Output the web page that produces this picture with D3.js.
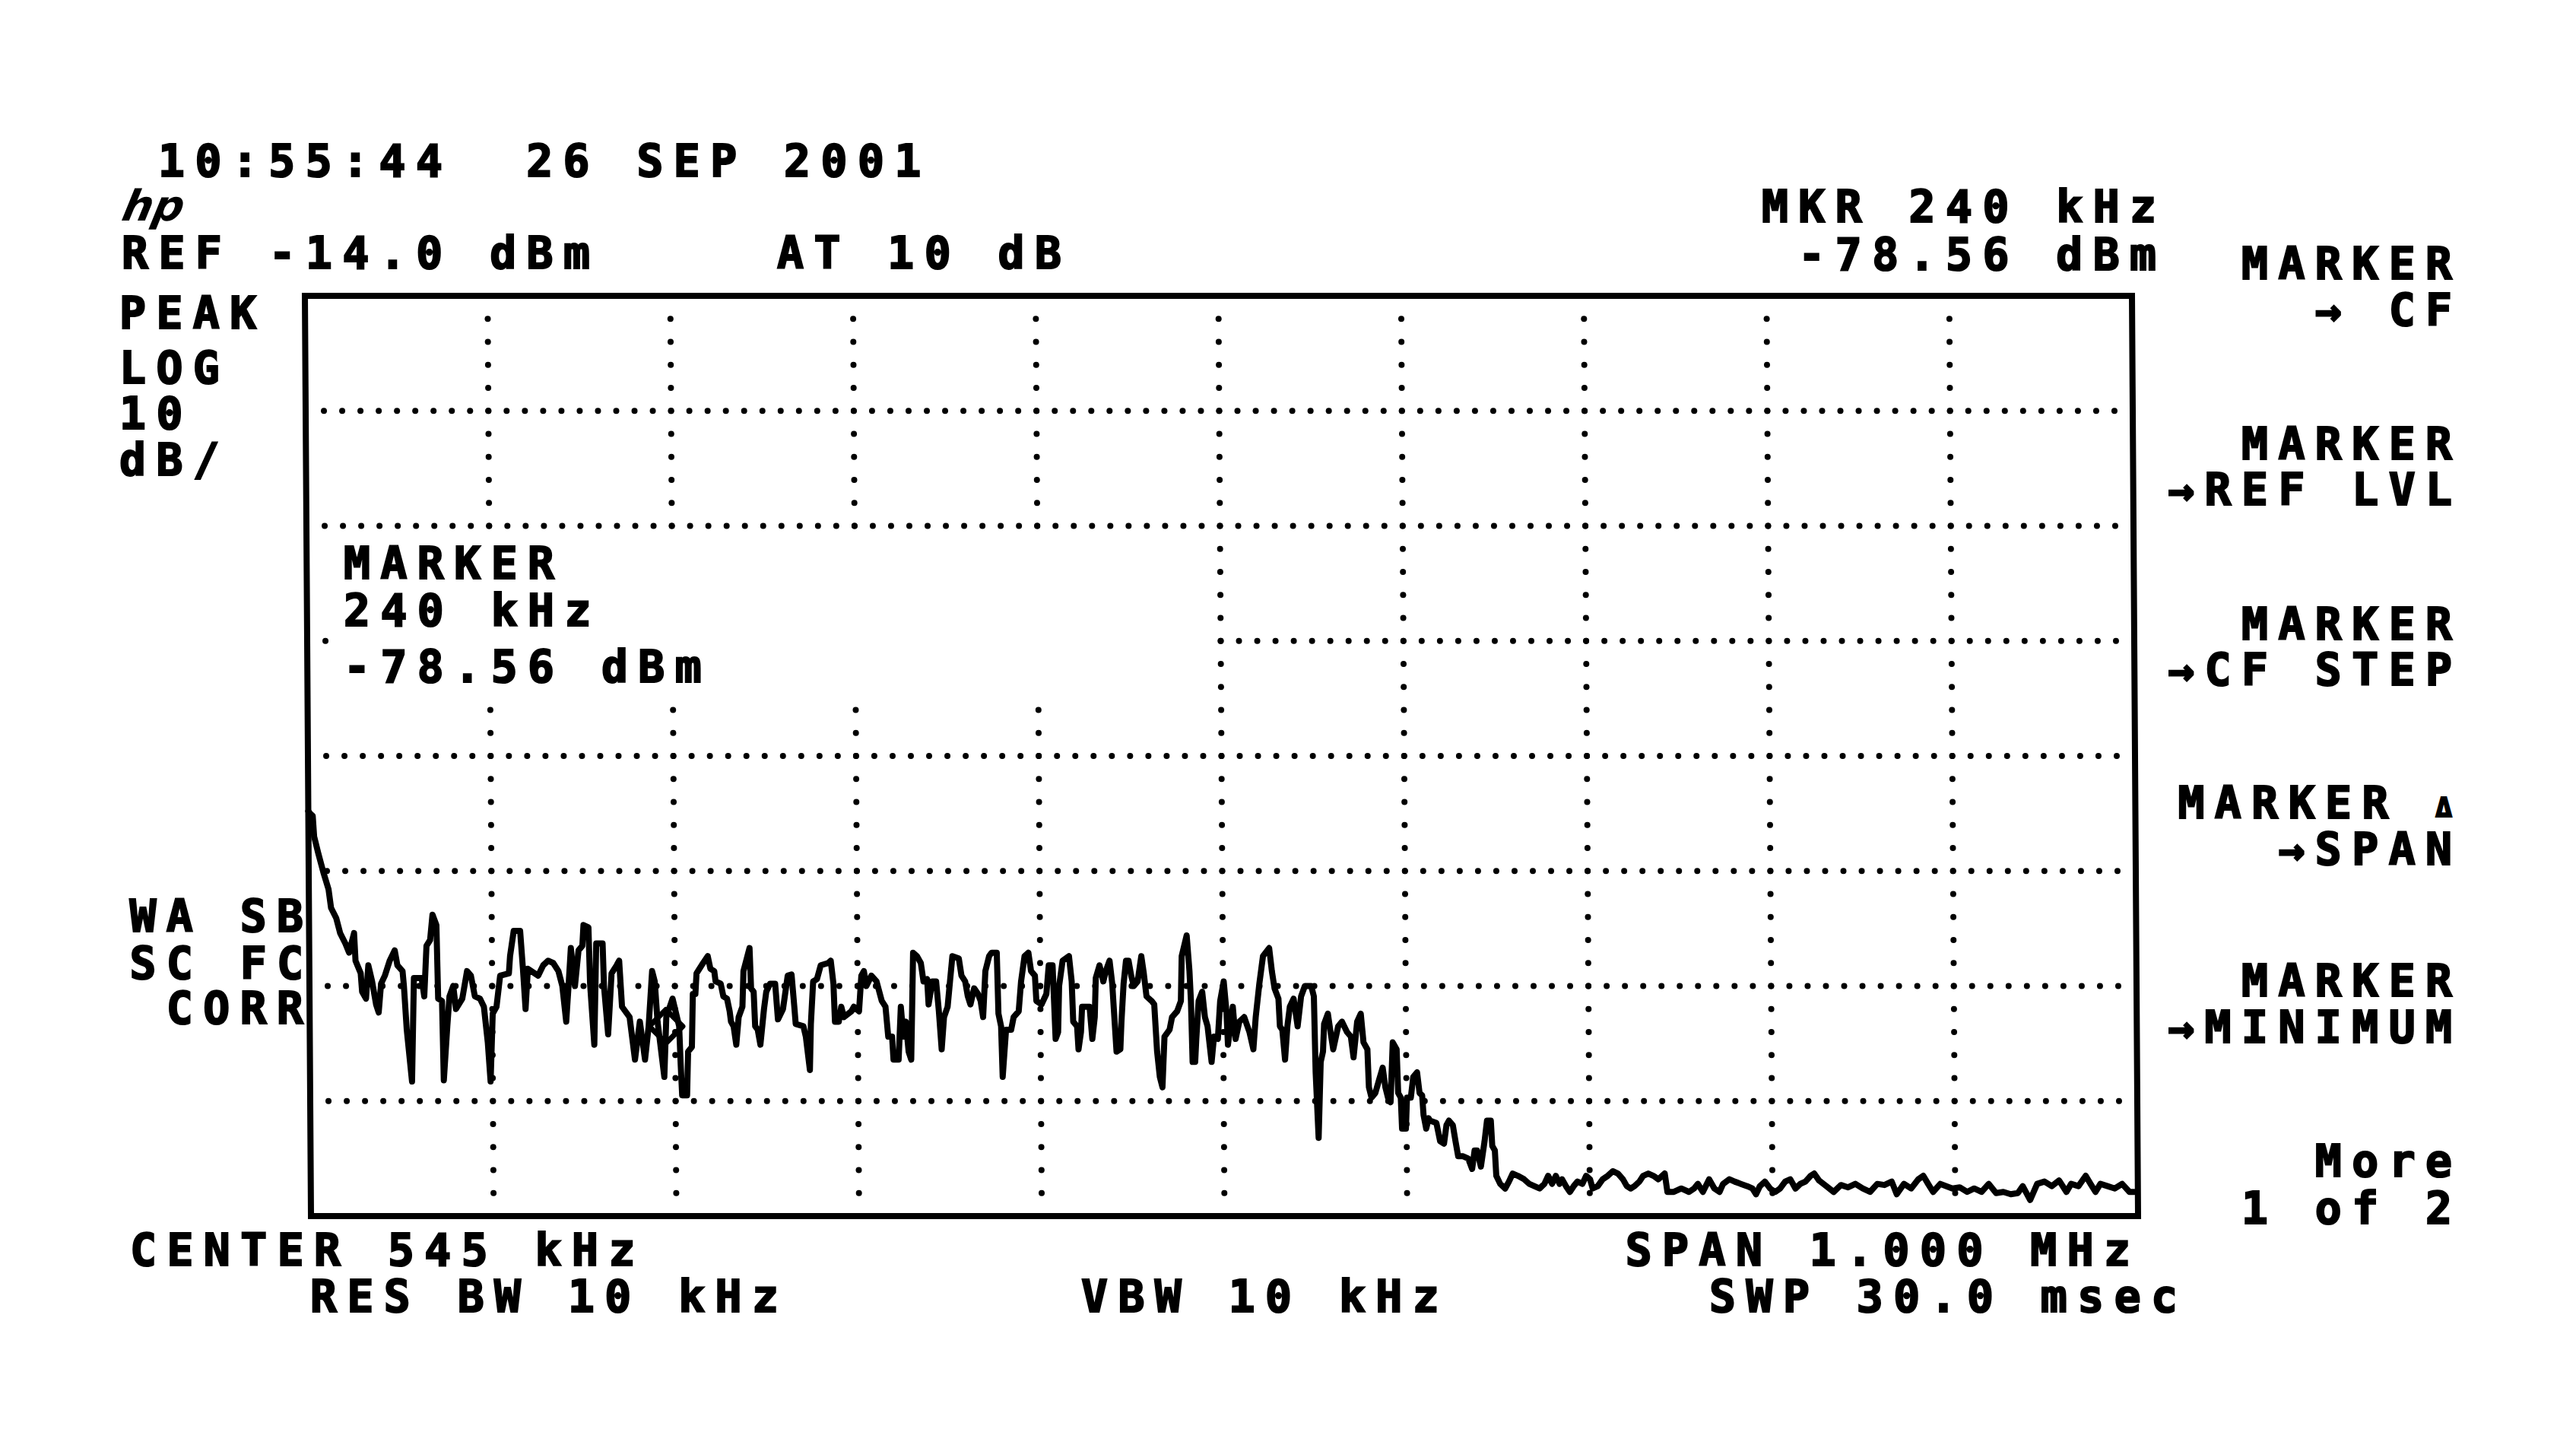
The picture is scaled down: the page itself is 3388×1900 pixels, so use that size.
<!DOCTYPE html>
<html>
<head>
<meta charset="utf-8">
<script src="https://cdn.jsdelivr.net/npm/d3@7"></script>
<style>
  body { margin:0; background:#fff; }
  svg text { font-family:"DejaVu Sans Mono", monospace; font-weight:bold; fill:#000; white-space:pre; }
</style>
</head>
<body>
<script>
//Analyzer settings
var refLevel = -14.0
var dbPerDiv = 10
var nDivY = 8
var nDivX = 10
var centerKHz = 545
var spanKHz = 1000
var markerKHz = 240

//Annotation texts
var headerText = ["10:55:44  26 SEP 2001", "REF -14.0 dBm", "AT 10 dB"]
var markerReadout = ["MKR 240 kHz", "-78.56 dBm"]
var modeText = ["PEAK", "LOG", "10", "dB/"]
var markerBox = ["MARKER", "240 kHz", "-78.56 dBm"]
var statusText = ["WA SB", "SC FC", "CORR"]
var footerText = ["CENTER 545 kHz", "SPAN 1.000 MHz", "RES BW 10 kHz", "VBW 10 kHz", "SWP 30.0 msec"]
var softkeys = [["MARKER", "\u2192 CF"], ["MARKER", "\u2192REF LVL"], ["MARKER", "\u2192CF STEP"],
                ["MARKER \u0394", "\u2192SPAN"], ["MARKER", "\u2192MINIMUM"], ["More", "1 of 2"]]

//Trace vertices [kHz, dBm]
var trace = [
 [45,-58.8],[46.0,-59.0],[47.4,-59.2],[48.1,-61.0],[50.2,-62.4],[53.0,-64.1],[55.8,-65.6],[57.1,-67.2],
 [59.9,-68.1],[62.0,-69.4],[64.8,-70.3],[66.8,-71.1],[69.6,-69.4],[70.3,-71.8],[73.1,-72.9],[73.8,-74.5],
 [75.9,-75.1],[77.3,-72.2],[79.3,-73.6],[81.4,-75.6],[82.8,-76.3],[84.2,-73.8],[86.3,-73.1],[89.0,-71.8],
 [91.8,-70.9],[93.2,-72.2],[96.0,-72.7],[96.7,-74.0],[98.1,-77.8],[100.8,-82.3],[102.2,-73.3],[106.4,-73.3],
 [107.8,-74.9],[109.2,-70.5],[111.2,-70.0],[112.6,-67.8],[114.7,-68.7],[115.4,-75.1],[117.5,-75.3],[118.2,-82.2],
 [120.3,-77.5],[121.6,-74.9],[123.7,-74.0],[125.1,-76.0],[128.6,-75.1],[131.3,-72.7],[133.4,-73.1],[135.5,-74.9],
 [138.3,-75.1],[140.4,-75.8],[142.4,-78.9],[143.8,-82.3],[145.2,-76.4],[147.3,-75.8],[149.4,-73.1],[154.2,-72.9],
 [154.9,-71.4],[157.0,-69.2],[160.5,-69.2],[161.9,-72.5],[163.2,-76.0],[164.6,-72.5],[170.2,-73.1],[173.0,-72.2],
 [175.7,-71.8],[178.5,-72.0],[181.3,-72.7],[183.4,-74.0],[185.4,-77.1],[186.8,-74.0],[188.2,-70.7],[190.3,-74.0],
 [192.4,-70.9],[194.5,-70.5],[195.2,-68.7],[197.9,-68.9],[198.6,-73.8],[200.7,-79.1],[202.1,-70.3],[205.6,-70.3],
 [206.2,-74.0],[208.3,-78.2],[210.4,-72.9],[213.2,-72.2],[214.6,-71.8],[216.0,-75.8],[220.1,-76.7],[222.9,-80.4],
 [225.7,-77.1],[228.4,-80.4],[230.5,-77.5],[232.6,-72.7],[234.0,-73.6],[235.4,-77.1],[238.9,-81.9],[240.2,-76.7],
 [243.7,-75.1],[247.2,-77.5],[247.9,-80.8],[248.6,-83.5],[251.3,-83.5],[252.0,-79.7],[254.1,-79.3],[254.8,-74.7],
 [256.2,-74.7],[256.9,-72.9],[259.7,-72.2],[263.1,-71.4],[264.5,-72.5],[266.6,-72.7],[267.3,-73.6],[270.1,-73.8],
 [271.5,-74.9],[273.5,-75.1],[274.9,-76.2],[275.6,-77.1],[277.0,-77.5],[278.4,-79.1],[279.8,-76.7],[281.9,-75.8],
 [282.6,-72.7],[286.0,-70.7],[286.7,-74.2],[288.1,-74.5],[288.8,-77.5],[290.2,-77.8],[291.6,-79.1],[293.7,-76.0],
 [295.0,-74.5],[297.1,-73.8],[299.9,-73.8],[301.3,-76.9],[304.1,-76.0],[306.8,-73.1],[308.9,-73.0],[310.3,-75.8],
 [311.0,-77.3],[315.2,-77.5],[316.5,-78.4],[318.6,-81.3],[319.3,-77.3],[320.7,-73.6],[322.8,-73.4],[324.9,-72.2],
 [329.0,-72.0],[330.4,-71.8],[331.8,-73.8],[332.5,-77.1],[334.6,-77.1],[336.0,-75.8],[337.4,-76.7],[341.5,-76.2],
 [342.9,-75.8],[345.7,-76.2],[347.1,-73.1],[348.5,-72.7],[349.8,-74.0],[352.6,-73.1],[355.4,-73.6],[358.2,-75.3],
 [360.2,-75.8],[361.6,-78.4],[363.7,-78.4],[364.4,-80.4],[367.2,-80.4],[368.6,-75.8],[369.9,-78.4],[371.3,-77.1],
 [372.7,-79.7],[374.1,-80.4],[374.8,-75.8],[375.5,-71.1],[377.6,-71.4],[379.7,-72.0],[381.1,-73.6],[383.1,-73.4],
 [383.8,-75.6],[385.9,-73.6],[388.0,-73.6],[389.4,-76.2],[390.8,-79.5],[392.2,-76.7],[394.2,-75.8],[395.6,-73.6],
 [397.0,-71.4],[400.5,-71.6],[401.9,-73.1],[403.9,-73.6],[405.3,-74.9],[406.7,-75.6],[408.8,-74.2],[410.9,-74.7],
 [412.3,-75.3],[413.6,-76.7],[415.0,-72.7],[417.1,-71.4],[418.5,-71.1],[421.3,-71.1],[422.0,-76.4],[423.4,-77.5],
 [424.1,-81.9],[426.1,-77.8],[428.9,-77.8],[430.3,-76.7],[433.1,-76.2],[434.5,-73.6],[436.5,-71.4],[438.6,-71.1],
 [440.0,-72.7],[442.1,-73.1],[442.8,-75.3],[445.6,-75.6],[448.3,-74.7],[449.7,-72.2],[451.8,-72.2],[453.2,-78.6],
 [454.6,-78.0],[455.3,-74.0],[457.3,-71.8],[460.8,-71.4],[462.2,-73.6],[462.9,-77.1],[465.0,-77.5],[465.7,-79.5],
 [467.1,-78.0],[467.8,-75.8],[471.9,-75.8],[473.3,-78.6],[474.7,-76.7],[475.4,-73.3],[477.5,-72.2],[479.5,-73.6],
 [480.9,-72.7],[483.0,-71.8],[484.4,-73.8],[485.1,-75.8],[486.5,-79.7],[488.6,-79.5],[489.3,-77.1],[490.6,-73.8],
 [492.0,-71.8],[493.4,-71.8],[494.8,-73.1],[496.2,-74.0],[498.3,-73.6],[500.4,-71.4],[501.7,-72.9],[503.1,-74.9],
 [505.9,-75.3],[507.3,-75.6],[508.7,-79.7],[510.1,-81.9],[511.5,-82.8],[512.8,-78.4],[515.6,-77.8],[517.0,-76.7],
 [519.8,-76.2],[521.9,-75.3],[522.5,-71.4],[525.3,-69.6],[526.7,-72.7],[527.4,-75.3],[528.1,-80.6],[529.5,-80.6],
 [530.2,-78.6],[531.6,-75.3],[533.6,-74.5],[535.0,-76.7],[536.4,-77.5],[538.5,-80.6],[539.9,-78.4],[542.0,-78.6],
 [543.4,-75.3],[545.4,-73.6],[546.8,-76.2],[547.5,-79.1],[550.3,-75.8],[551.7,-78.6],[553.8,-77.1],[556.5,-76.7],
 [559.3,-78.0],[561.4,-79.5],[562.8,-76.7],[564.9,-73.8],[567.0,-71.4],[570.4,-70.7],[571.8,-72.7],[573.2,-74.2],
 [575.3,-75.1],[576.0,-77.5],[577.3,-77.8],[578.7,-80.4],[580.1,-77.5],[581.5,-75.8],[583.6,-75.1],[585.7,-77.5],
 [587.7,-74.9],[589.8,-74.0],[593.3,-74.0],[594.7,-74.9],[595.4,-81.5],[596.8,-87.2],[598.2,-80.6],[599.5,-79.7],
 [600.2,-77.3],[602.3,-76.4],[603.7,-78.0],[605.1,-79.5],[607.9,-77.5],[610.0,-77.1],[612.7,-78.0],[614.8,-78.4],
 [616.2,-80.2],[618.3,-77.1],[620.3,-76.4],[621.7,-78.9],[623.8,-79.5],[624.5,-82.8],[625.9,-83.7],[628.0,-83.3],
 [630.0,-82.2],[632.1,-81.1],[633.5,-82.8],[634.9,-83.7],[636.3,-84.1],[637.7,-78.9],[639.8,-79.5],[640.5,-83.3],
 [641.9,-83.7],[642.5,-86.4],[644.6,-86.4],[645.3,-83.7],[647.4,-83.7],[648.8,-81.9],[650.9,-81.5],[652.2,-83.3],
 [653.6,-83.5],[654.3,-85.2],[655.7,-86.4],[657.1,-85.5],[657.8,-85.7],[661.3,-85.9],[663.3,-87.5],[665.4,-87.7],
 [666.8,-86.1],[668.2,-85.7],[670.3,-86.1],[671.7,-87.5],[673.1,-88.8],[675.8,-88.8],[678.6,-89.0],[680.7,-89.9],
 [682.1,-88.3],[683.5,-88.3],[685.5,-89.7],[687.6,-87.5],[689.0,-85.7],[691.1,-85.7],[691.8,-87.9],[693.2,-88.3],
 [693.9,-90.5],[696.0,-91.2],[698.7,-91.6],[700.8,-91.0],[702.9,-90.3],[705.7,-90.5],[709.1,-90.8],[711.9,-91.2],
 [714.7,-91.4],[717.5,-91.6],[720.2,-91.2],[722.3,-90.5],[724.4,-91.2],[726.5,-90.5],[728.5,-91.2],[729.9,-90.8],
 [732.0,-91.4],[734.1,-91.9],[736.2,-91.4],[738.3,-91.0],[741.0,-91.2],[743.1,-90.5],[745.2,-90.8],[746.6,-91.6],
 [749.4,-91.4],[752.1,-90.8],[754.9,-90.5],[757.7,-90.1],[760.5,-90.3],[763.2,-90.8],[765.3,-91.4],[767.4,-91.6],
 [769.5,-91.4],[772.2,-91.0],[774.3,-90.5],[777.1,-90.3],[779.9,-90.5],[782.6,-90.8],[784.7,-90.5],[786.1,-90.3],
 [787.5,-91.9],[791.0,-91.9],[795.1,-91.6],[799.3,-91.9],[802.1,-91.6],[804.2,-91.2],[806.9,-91.9],[810.4,-90.8],
 [813.2,-91.6],[816.0,-91.9],[818.0,-91.2],[821.5,-90.8],[824.3,-91.0],[827.7,-91.2],[831.2,-91.4],[834.0,-91.6],
 [836.0,-92.1],[838.1,-91.4],[840.9,-91.0],[843.7,-91.6],[846.5,-91.9],[849.2,-91.6],[852.0,-91.0],[854.8,-90.8],
 [857.6,-91.6],[860.3,-91.2],[863.1,-91.0],[865.9,-90.5],[867.9,-90.3],[870.5,-90.9],[874.5,-91.4],[878.5,-91.9],
 [882.5,-91.3],[886.4,-91.5],[890.4,-91.2],[894.4,-91.6],[898.4,-91.9],[902.4,-91.2],[906.3,-91.3],[910.3,-91.0],
 [913.0,-92.1],[917.0,-91.2],[920.9,-91.6],[924.9,-90.8],[927.6,-90.5],[930.2,-91.2],[932.9,-91.9],[936.9,-91.2],
 [943.5,-91.6],[947.5,-91.5],[951.5,-91.9],[955.4,-91.6],[959.4,-91.9],[963.4,-91.2],[967.4,-92.0],[971.4,-91.9],
 [975.4,-92.1],[979.3,-92.0],[982.0,-91.4],[986.0,-92.6],[989.9,-91.2],[993.9,-91.0],[997.9,-91.4],[1001.9,-90.9],
 [1005.9,-91.9],[1008.5,-91.2],[1012.5,-91.4],[1016.5,-90.5],[1019.1,-91.2],[1021.8,-91.9],[1024.5,-91.2],[1028.4,-91.4],
 [1032.4,-91.6],[1036.4,-91.2],[1040.4,-91.9],[1043.0,-91.9]
]

//Page and plot geometry
var pageW = 3388, pageH = 1900
var plot = {left:401, top:389, width:2403, height:1210}
var skewDeg = 0.379          // the plotted graticule leans slightly
var fontSize = 58
var ls = 13.5                // letter spacing so the pitch is ~48.5px

var svg = d3.select("body").append("svg")
    .attr("width", pageW)
    .attr("height", pageH)

svg.append("rect").attr("width", pageW).attr("height", pageH).attr("fill", "#fff")

//Scales
var x = d3.scaleLinear()
    .domain([centerKHz - spanKHz / 2, centerKHz + spanKHz / 2])
    .range([0, plot.width])

var y = d3.scaleLinear()
    .domain([refLevel - nDivY * dbPerDiv, refLevel])
    .range([plot.height, 0])

var g = svg.append("g")
    .attr("transform", "translate(" + plot.left + "," + plot.top + ") skewX(" + skewDeg + ")")

//Dotted graticule
var xDivs = d3.range(1, nDivX).map((i) => x.domain()[0] + i * spanKHz / nDivX)
var yDivs = d3.range(1, nDivY).map((i) => refLevel - i * dbPerDiv)

// the marker readout box blanks the graticule behind it (page coords)
var blank = {x0:435 - plot.left, x1:1592 - plot.left, y0:700 - plot.top, y1:920 - plot.top}
const hidden = (px, py) => px > blank.x0 && px < blank.x1 && py > blank.y0 && py < blank.y1

var dots = []
var dotStepX = plot.width / (nDivX * 10)
var dotStepY = plot.height / (nDivY * 5)
yDivs.forEach((lvl) => {
    var py = y(lvl)
    d3.range(1, nDivX * 10).forEach((j) => {
        var px = j * dotStepX
        if (!hidden(px, py)) dots.push([px, py])
    })
})
xDivs.forEach((f) => {
    var px = x(f)
    d3.range(1, nDivY * 5).forEach((m) => {
        var py = m * dotStepY
        if (!hidden(px, py)) dots.push([px, py])
    })
})

g.selectAll("circle.grid")
    .data(dots)
    .enter()
    .append("circle")
        .attr("class", "grid")
        .attr("cx", (d) => d[0])
        .attr("cy", (d) => d[1])
        .attr("r", 4)
        .attr("fill", "#000")

//Frame
g.append("rect")
    .attr("x", 0)
    .attr("y", 0)
    .attr("width", plot.width)
    .attr("height", plot.height)
    .attr("fill", "none")
    .attr("stroke", "#000")
    .attr("stroke-width", 8)

//Trace
var line = d3.line()
    .x((d) => x(d[0]))
    .y((d) => y(d[1]))

g.append("path")
    .datum(trace)
    .attr("d", line)
    .attr("fill", "none")
    .attr("stroke", "#000")
    .attr("stroke-width", 8)
    .attr("stroke-linejoin", "round")
    .attr("stroke-linecap", "round")

//Marker diamond sits on the trace at the marker frequency
var bis = d3.bisector((d) => d[0]).left
var k = bis(trace, markerKHz)
var a = trace[k - 1], b = trace[k]
var mLvl = a[1] + (b[1] - a[1]) * (markerKHz - a[0]) / (b[0] - a[0])
var mx = x(markerKHz), my = y(mLvl), ds = 22
g.append("path")
    .attr("d", "M" + mx + "," + (my - ds) + "L" + (mx + ds) + "," + my + "L" + mx + "," + (my + ds) + "L" + (mx - ds) + "," + my + "Z")
    .attr("fill", "none")
    .attr("stroke", "#000")
    .attr("stroke-width", 7)
    .attr("stroke-linejoin", "round")

//Text helper
const label = (str, px, py, anchor) => {
    return svg.append("text")
        .attr("x", anchor === "end" ? px + ls : px)
        .attr("y", py)
        .attr("text-anchor", anchor || "start")
        .attr("font-size", fontSize)
        .attr("letter-spacing", ls)
        .attr("stroke", "#000")
        .attr("stroke-width", 2.2)
        .text(str)
}

//Header
label(headerText[0], 208, 232)
label(headerText[1], 160, 353)
label(headerText[2], 1022, 353)
label(markerReadout[0], 2836, 292, "end")
label(markerReadout[1], 2836, 355, "end")

//hp logo
svg.append("text")
    .attr("x", 162)
    .attr("y", 290)
    .attr("font-size", 56)
    .attr("font-style", "italic")
    .style("font-family", "DejaVu Sans")
    .attr("transform", "skewX(-12) translate(58,0)")
    .text("hp")

//Left column
var modeY = [432, 504, 564, 625]
modeText.forEach((t, i) => label(t, 157, modeY[i]))
var statusY = [1225, 1287, 1346]
statusText.forEach((t, i) => label(t, 399, statusY[i], "end"))

//Marker readout inside the graticule
var boxY = [761, 823, 897]
markerBox.forEach((t, i) => label(t, 452, boxY[i]))

//Footer
label(footerText[0], 171, 1664)
label(footerText[1], 2802, 1664, "end")
label(footerText[2], 408, 1725)
label(footerText[3], 1422, 1725)
label(footerText[4], 2864, 1725, "end")

//Softkey labels
var keyY = [[367, 428], [604, 664], [841, 901], [1076, 1137], [1310, 1371], [1547, 1609]]
softkeys.forEach((pair, i) => {
    pair.forEach((t, j) => {
        var el = label("", 3225, keyY[i][j], "end")
        if (t.indexOf("\u0394") >= 0) {
            // the delta is drawn small, like the instrument's font
            el.append("tspan").text(t.replace("\u0394", ""))
            el.append("tspan").attr("font-size", 36).attr("dy", -2).text("\u0394")
        } else {
            el.text(t)
        }
    })
})
</script>
</body>
</html>
